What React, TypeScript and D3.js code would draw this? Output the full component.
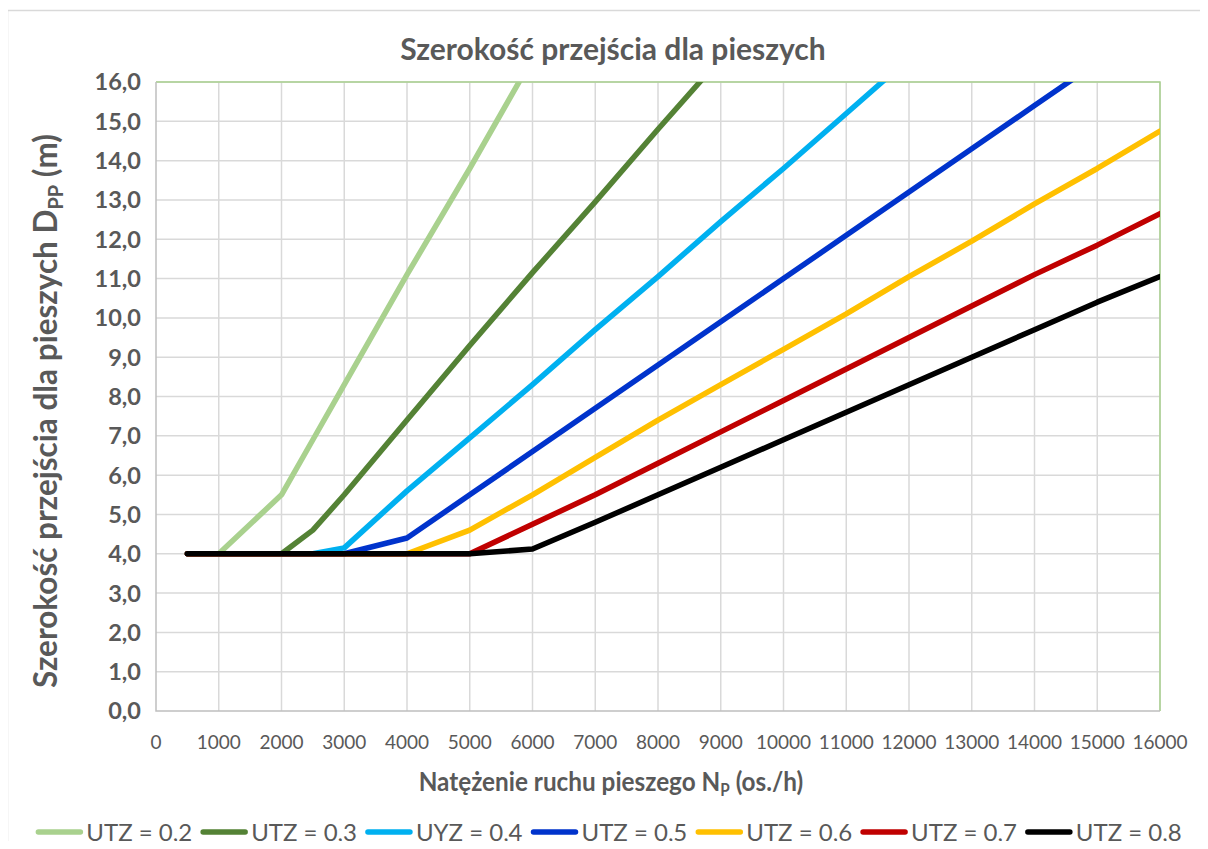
import React, { useEffect, useRef } from 'react';
import * as d3 from 'd3';

const xValues = [500, 1000, 2000, 2500, 3000, 4000, 5000, 6000, 7000, 8000, 9000, 10000, 11000, 12000, 13000, 14000, 15000, 16000];

const utz02 = [4.0, 4.0, 5.5, 6.9, 8.3, 11.1, 13.8, 16.6, null, null, null, null, null, null, null, null, null, null];
const utz03 = [4.0, 4.0, 4.0, 4.6, 5.5, 7.4, 9.3, 11.15, 12.95, 14.8, 16.6, null, null, null, null, null, null, null];
const uyz04 = [4.0, 4.0, 4.0, 4.0, 4.15, 5.6, 6.95, 8.3, 9.7, 11.05, 12.45, 13.8, 15.2, 16.6, null, null, null, null];
const utz05 = [4.0, 4.0, 4.0, 4.0, 4.0, 4.4, 5.5, 6.6, 7.7, 8.8, 9.9, 11.0, 12.1, 13.2, 14.3, 15.4, 16.5, null];
const utz06 = [4.0, 4.0, 4.0, 4.0, 4.0, 4.0, 4.6, 5.5, 6.45, 7.4, 8.3, 9.2, 10.1, 11.05, 11.95, 12.9, 13.8, 14.75];
const utz07 = [4.0, 4.0, 4.0, 4.0, 4.0, 4.0, 4.0, 4.75, 5.5, 6.3, 7.1, 7.9, 8.7, 9.5, 10.3, 11.1, 11.85, 12.65];
const utz08 = [4.0, 4.0, 4.0, 4.0, 4.0, 4.0, 4.0, 4.12, 4.8, 5.5, 6.2, 6.9, 7.6, 8.3, 9.0, 9.7, 10.4, 11.05];

const seriesNames = ['UTZ = 0,2', 'UTZ = 0,3', 'UYZ = 0,4', 'UTZ = 0,5', 'UTZ = 0,6', 'UTZ = 0,7', 'UTZ = 0,8'];
const seriesColors = ['#a9d18e', '#548235', '#00b0f0', '#0033cc', '#ffc000', '#c00000', '#000000'];
const seriesValues = [utz02, utz03, uyz04, utz05, utz06, utz07, utz08];

const xTicks = d3.range(0, 16001, 1000);
const yTicks = d3.range(0, 17, 1);

const FONT = 'Lato, "Open Sans", sans-serif';
const TEXT = '#595959';

export default function App() {
  const svgRef = useRef<SVGSVGElement>(null);
  const width = 1208;
  const height = 849;

  useEffect(() => {
    if (!svgRef.current) return;
    const svg = d3.select(svgRef.current);
    svg.selectAll('*').remove();

    const plot = { left: 156, right: 1160, top: 82, bottom: 711 };

    const x = d3.scaleLinear().domain([0, 16000]).range([plot.left, plot.right]);
    const y = d3.scaleLinear().domain([0, 16]).range([plot.bottom, plot.top]);

    svg.append('rect').attr('width', width).attr('height', height).attr('fill', '#fff');
    // outer chart border
    svg.append('rect')
      .attr('x', 7.5).attr('y', 10.5)
      .attr('width', width + 20).attr('height', height + 20)
      .attr('fill', 'none').attr('stroke', '#d9d9d9').attr('stroke-width', 1.5);

    const defs = svg.append('defs');
    defs.append('clipPath').attr('id', 'plot-clip')
      .append('rect')
      .attr('x', plot.left).attr('y', plot.top)
      .attr('width', plot.right - plot.left).attr('height', plot.bottom - plot.top);

    // Grid
    const grid = svg.append('g');
    grid.selectAll('line.v').data(xTicks.slice(1)).join('line')
      .attr('x1', d => x(d)).attr('x2', d => x(d))
      .attr('y1', plot.top).attr('y2', plot.bottom)
      .attr('stroke', '#d9d9d9').attr('stroke-width', 1.5);
    grid.selectAll('line.h').data(yTicks.slice(1)).join('line')
      .attr('x1', plot.left).attr('x2', plot.right)
      .attr('y1', d => y(d)).attr('y2', d => y(d))
      .attr('stroke', '#d9d9d9').attr('stroke-width', 1.5);

    // plot border: green top/right, gray axes
    svg.append('path')
      .attr('d', `M${plot.left},${plot.top}H${plot.right}V${plot.bottom}`)
      .attr('fill', 'none').attr('stroke', '#a9d18e').attr('stroke-width', 1.5);
    svg.append('path')
      .attr('d', `M${plot.left},${plot.top}V${plot.bottom}H${plot.right}`)
      .attr('fill', 'none').attr('stroke', '#bfbfbf').attr('stroke-width', 1.5);

    // Axis labels
    svg.append('g').selectAll('text').data(yTicks).join('text')
      .attr('x', 141).attr('y', d => y(d))
      .attr('dy', '0.36em')
      .attr('text-anchor', 'end')
      .attr('font-family', FONT).attr('font-size', 23.5).attr('font-weight', 700)
      .attr('fill', TEXT)
      .text(d => d.toFixed(1).replace('.', ','));

    svg.append('g').selectAll('text').data(xTicks).join('text')
      .attr('x', d => x(d)).attr('y', 749)
      .attr('text-anchor', 'middle')
      .attr('font-family', FONT).attr('font-size', 19)
      .attr('fill', TEXT)
      .text(d => String(d));

    // Series
    const lines = svg.append('g').attr('clip-path', 'url(#plot-clip)');
    seriesValues.forEach((vals, i) => {
      const pts = xValues.map((xv, j) => [xv, vals[j]] as [number, number | null]);
      const line = d3.line<[number, number | null]>()
        .defined(d => d[1] !== null)
        .x(d => x(d[0]))
        .y(d => y(d[1] as number));
      lines.append('path')
        .datum(pts)
        .attr('fill', 'none')
        .attr('stroke', seriesColors[i])
        .attr('stroke-width', 5.5)
        .attr('stroke-linejoin', 'round')
        .attr('stroke-linecap', 'round')
        .attr('d', line);
    });

    // Title
    svg.append('text')
      .attr('x', 613).attr('y', 60)
      .attr('text-anchor', 'middle')
      .attr('font-family', FONT).attr('font-size', 30).attr('font-weight', 700)
      .attr('fill', TEXT)
      .text('Szerokość przejścia dla pieszych');

    // X axis title (narrowed a bit to mimic the condensed original face)
    const xt = svg.append('text')
      .attr('transform', 'translate(611,791) scale(0.9,1)')
      .attr('text-anchor', 'middle')
      .attr('font-family', FONT).attr('font-size', 27).attr('font-weight', 700)
      .attr('fill', TEXT);
    xt.append('tspan').text('Natężenie ruchu pieszego N');
    xt.append('tspan').attr('font-size', 17).attr('dy', 5).text('P');
    xt.append('tspan').attr('dy', -5).text(' (os./h)');

    // Y axis title
    const yt = svg.append('text')
      .attr('transform', `translate(57,${411}) rotate(-90)`)
      .attr('text-anchor', 'middle')
      .attr('font-family', FONT).attr('font-size', 31.5).attr('font-weight', 700)
      .attr('fill', TEXT);
    yt.append('tspan').text('Szerokość przejścia dla pieszych D');
    yt.append('tspan').attr('font-size', 20).attr('dy', 6).text('PP');
    yt.append('tspan').attr('dy', -6).text(' (m)');

    // Legend
    const legend = svg.append('g');
    const swatch = 42;
    const gapAfterSwatch = 6;
    const gapBetween = 11;
    const items = seriesNames.map((name, i) => {
      const g = legend.append('g');
      g.append('line')
        .attr('x1', 0).attr('x2', swatch)
        .attr('y1', 0).attr('y2', 0)
        .attr('stroke', seriesColors[i]).attr('stroke-width', 5.5)
        .attr('stroke-linecap', 'round');
      const t = g.append('text')
        .attr('x', swatch + gapAfterSwatch).attr('y', 0).attr('dy', '0.36em')
        .attr('font-family', FONT).attr('font-size', 24)
        .attr('fill', TEXT)
        .text(name);
      const w = swatch + gapAfterSwatch + (t.node() as SVGTextElement).getComputedTextLength();
      return { g, w };
    });
    const total = d3.sum(items, d => d.w) + gapBetween * (items.length - 1);
    let cx = 610 - total / 2;
    items.forEach(it => {
      it.g.attr('transform', `translate(${cx},832)`);
      cx += it.w + gapBetween;
    });
  }, []);

  return (
    <div style={{ width, height, margin: -8 }}>
      <svg ref={svgRef} width={width} height={height} viewBox={`0 0 ${width} ${height}`} />
    </div>
  );
}
